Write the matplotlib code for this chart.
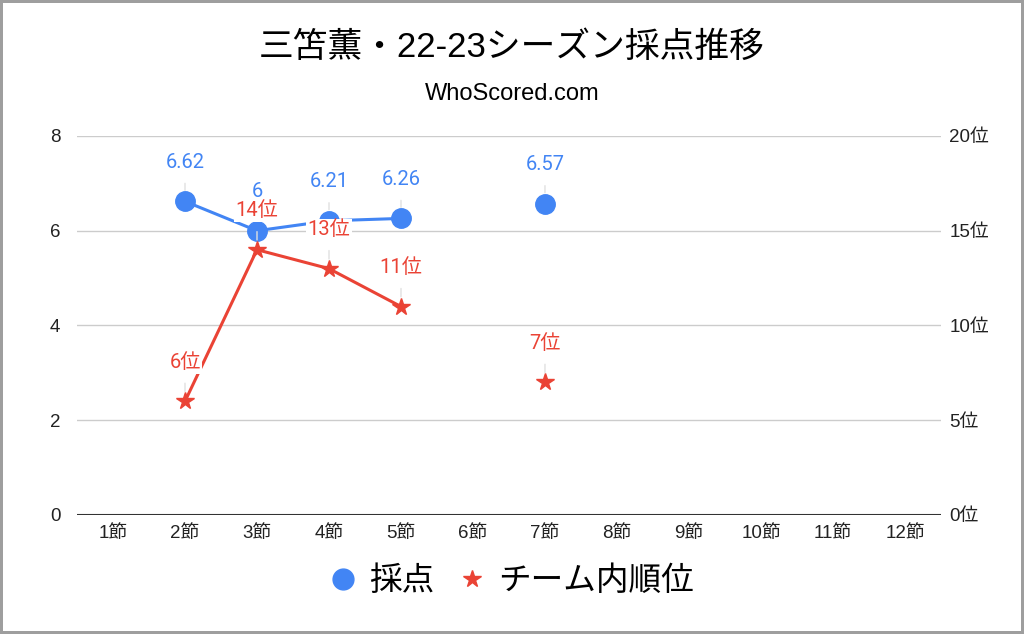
import matplotlib
matplotlib.use("Agg")
import matplotlib.pyplot as plt
from matplotlib.lines import Line2D
import numpy as np

plt.rcParams["font.family"] = ["Liberation Sans", "Noto Sans CJK JP", "DejaVu Sans"]

BLUE = "#4285F4"
RED = "#EA4335"

# data
rounds = ["1節", "2節", "3節", "4節", "5節", "6節", "7節", "8節", "9節", "10節", "11節", "12節"]
scores = [np.nan, 6.62, 6.00, 6.21, 6.26, np.nan, 6.57, np.nan, np.nan, np.nan, np.nan, np.nan]
ranks = [np.nan, 6, 14, 13, 11, np.nan, 7, np.nan, np.nan, np.nan, np.nan, np.nan]
score_ticks = [0, 2, 4, 6, 8]
rank_ticks = [0, 5, 10, 15, 20]

x = np.arange(len(rounds))

fig = plt.figure(figsize=(10.24, 6.34), dpi=100)
fig.patch.set_edgecolor("#9e9e9e")
fig.patch.set_linewidth(3)
ax = fig.add_axes([0.0752, 0.1877, 0.8437, 0.5978])
ax2 = ax.twinx()

ax.plot(x, scores, color=BLUE, lw=2.2, marker="o", ms=14, zorder=3)
ax2.plot(x, ranks, color=RED, lw=2.2, marker="*", ms=13, zorder=3)

lbl_kw = dict(textcoords="offset points", ha="center", va="center", fontsize=14.5,
              zorder=10, family=["Roboto", "Noto Sans CJK JP"],
              bbox=dict(boxstyle="square,pad=0.08", fc="white", ec="none"))
for xi, v in zip(x, scores):
    if not np.isnan(v):
        ax.annotate(f"{v:g}", xy=(xi, v), xytext=(0, 28), color=BLUE,
                    arrowprops=dict(arrowstyle="-", color="#e0e0e0", lw=1, shrinkA=7, shrinkB=8),
                    **lbl_kw)
for xi, v in zip(x, ranks):
    if not np.isnan(v):
        ax2.annotate(f"{v:g}位", xy=(xi, v), xytext=(0, 28), color=RED,
                     arrowprops=dict(arrowstyle="-", color="#e0e0e0", lw=1, shrinkA=7, shrinkB=7),
                     **lbl_kw)

ax.set_xlim(-0.5, len(rounds) - 0.5)
ax.set_ylim(0, 8)
ax2.set_ylim(0, 20)
ax.set_yticks(score_ticks)
ax2.set_yticks(rank_ticks)
ax2.set_yticklabels([f"{t}位" for t in rank_ticks])
ax.set_xticks(x)
ax.set_xticklabels(rounds)

for a in (ax, ax2):
    for s in a.spines.values():
        s.set_visible(False)
    a.tick_params(length=0, labelsize=13.5, colors="#222222")
ax.tick_params(axis="y", pad=12)
ax2.tick_params(axis="y", pad=6)
ax.tick_params(axis="x", pad=7)
ax.grid(axis="y", color="#cccccc", lw=1)
ax.axhline(0, color="#333333", lw=1.5, zorder=2)
ax.set_axisbelow(True)

fig.text(0.5, 0.925, "三笘薫・22-23シーズン採点推移", ha="center", va="center", fontsize=25)
fig.text(0.5, 0.852, "WhoScored.com", ha="center", va="center", fontsize=17)

handles = [
    Line2D([], [], color=BLUE, marker="o", ls="none", ms=15, label="採点"),
    Line2D([], [], color=RED, marker="*", ls="none", ms=13, label="チーム内順位"),
]
fig.legend(handles=handles, loc="center", bbox_to_anchor=(0.5, 0.083), ncol=2,
           frameon=False, handlelength=0.8, handletextpad=0.4, columnspacing=0.75,
           prop={"family": ["Noto Sans CJK JP"], "size": 23.5})

fig.savefig("out.png", dpi=100)
